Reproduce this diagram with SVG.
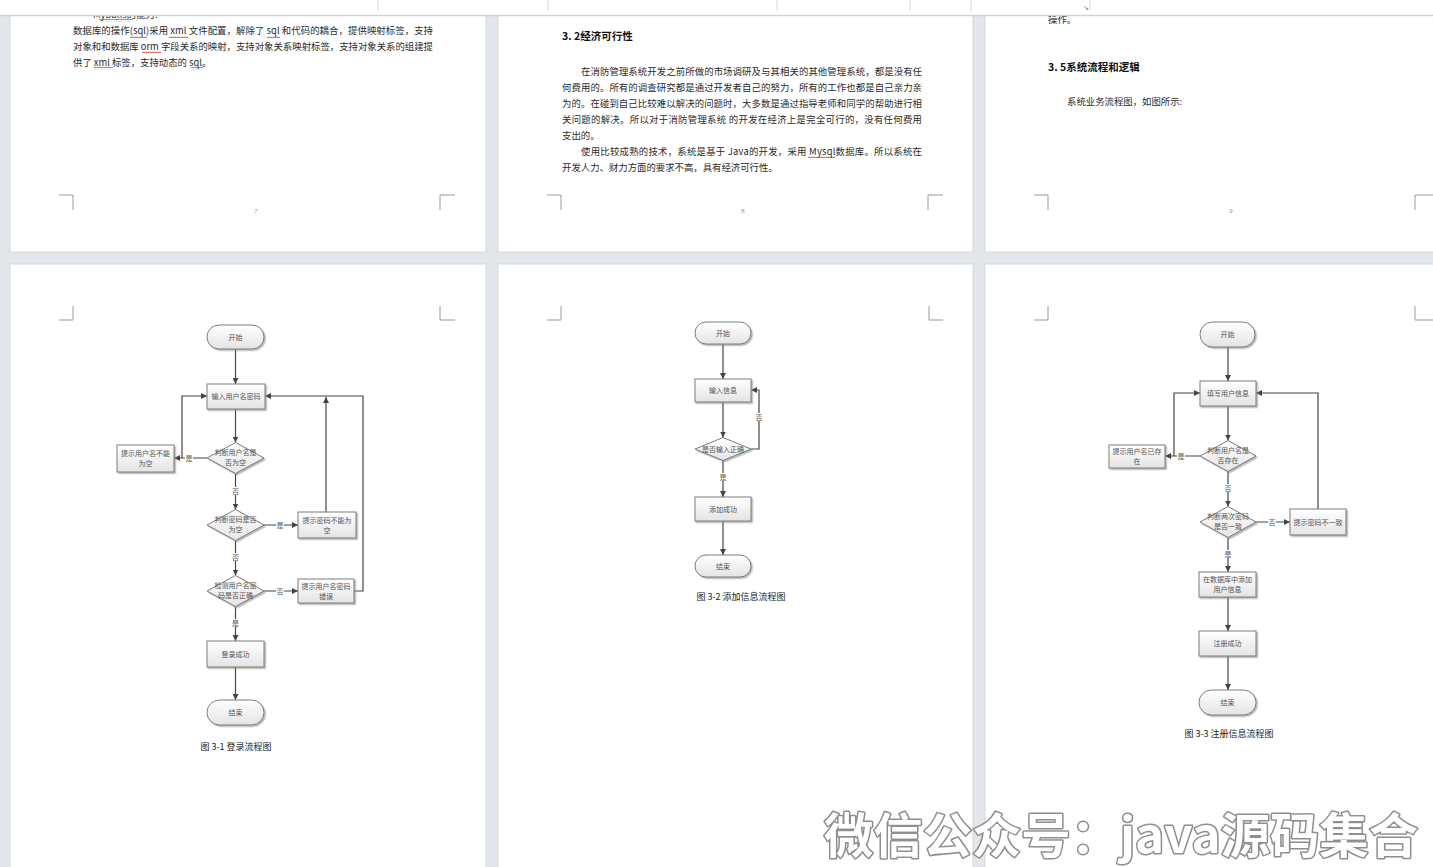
<svg xmlns="http://www.w3.org/2000/svg" width="1433" height="867" viewBox="0 0 1433 867">
<defs>
<linearGradient id="g" x1="0" y1="0" x2="0" y2="1">
<stop offset="0" stop-color="#ffffff"/>
<stop offset="1" stop-color="#e4e4e4"/>
</linearGradient>
<filter id="sh" x="-20%" y="-20%" width="150%" height="150%">
<feDropShadow dx="1.5" dy="1.5" stdDeviation="0.7" flood-color="#888" flood-opacity="0.6"/>
</filter>
<marker id="ar" viewBox="0 0 8 8" refX="8" refY="4" markerWidth="6" markerHeight="6" markerUnits="userSpaceOnUse" orient="auto">
<path d="M0,0 L8,4 L0,8 z" fill="#444"/>
</marker>
<pattern id="wave" x="0" y="0" width="4" height="3" patternUnits="userSpaceOnUse">
<path d="M0,2 L1,0.8 L2,2 L3,0.8 L4,2" fill="none" stroke="#d22" stroke-width="0.7"/>
</pattern>
<style>
.pg{fill:#ffffff;stroke:#d3d8dd;stroke-width:1}
.cm{stroke:#9a9a9a;stroke-width:1;fill:none}
.doc{font-family:"Noto Sans CJK SC","Liberation Sans",sans-serif;font-size:9.4px;fill:#2a2a2a}
.hd{font-family:"Noto Sans CJK SC","Liberation Sans",sans-serif;font-size:10.5px;font-weight:bold;fill:#111}
.pn{font-family:"Liberation Sans",sans-serif;font-size:6px;fill:#999;text-anchor:middle}
.cap{font-family:"Noto Sans CJK SC","Liberation Sans",sans-serif;font-size:9px;fill:#222;text-anchor:middle}
.nd rect,.nd polygon{fill:url(#g);stroke:#7c7c7c;stroke-width:1;filter:url(#sh)}
.nd text{font-family:"Noto Sans CJK SC","Liberation Sans",sans-serif;font-size:7px;fill:#555;text-anchor:middle}
.cn path{stroke:#454545;stroke-width:1.2;fill:none}
.lb rect{fill:#ffffff}
.lb text{font-family:"Noto Sans CJK SC","Liberation Sans",sans-serif;font-size:7px;fill:#555;text-anchor:middle}
</style>
</defs>
<rect x="0" y="0" width="1433" height="867" fill="#e3e7eb"/>

<!-- pages -->
<g id="pages">
<rect class="pg" x="10" y="10" width="476" height="242"/>
<rect class="pg" x="498" y="10" width="475" height="242"/>
<rect class="pg" x="985" y="10" width="460" height="242"/>
<rect class="pg" x="10" y="264" width="476" height="620"/>
<rect class="pg" x="498" y="264" width="475" height="620"/>
<rect class="pg" x="985" y="264" width="460" height="620"/>
</g>

<!-- corner marks -->
<g id="corners">
<path class="cm" d="M59,195 H73 V210 M440,210 V195 H455"/>
<path class="cm" d="M547,195 H561 V210 M928,210 V195 H943"/>
<path class="cm" d="M1034,195 H1048 V210 M1415,210 V195 H1433"/>
<path class="cm" d="M59,320 H73 V306 M440,306 V320 H455"/>
<path class="cm" d="M547,320 H561 V306 M929,306 V320 H943"/>
<path class="cm" d="M1034,320 H1048 V306 M1415,306 V320 H1433"/>
</g>

<!-- page 7 text -->
<g id="page7text">
<text class="doc" x="93" y="18">Mybatis的能力:</text>
<text class="doc" x="73" y="34" textLength="360" lengthAdjust="spacing">数据库的操作(sql)采用 xml 文件配置，解除了 sql 和代码的耦合，提供映射标签，支持</text>
<text class="doc" x="73" y="50" textLength="360" lengthAdjust="spacing">对象和和数据库 orm 字段关系的映射，支持对象关系映射标签，支持对象关系的组建提</text>
<text class="doc" x="73" y="66">供了 xml 标签，支持动态的 sql。</text>
<rect x="130" y="35" width="17" height="3" fill="url(#wave)"/>
<rect x="169" y="35" width="19" height="3" fill="url(#wave)"/>
<rect x="267" y="35" width="13" height="3" fill="url(#wave)"/>
<rect x="142" y="51" width="19" height="3" fill="url(#wave)"/>
<rect x="94" y="67" width="19" height="3" fill="url(#wave)"/>
<rect x="191" y="67" width="12" height="3" fill="url(#wave)"/>
<rect x="99" y="19" width="34" height="3" fill="url(#wave)"/>
<text class="pn" x="256" y="213">7</text>
</g>

<!-- page 8 text -->
<g id="page8text">
<text class="hd" x="562" y="40">3. 2经济可行性</text>
<text class="doc" x="581" y="75" textLength="341" lengthAdjust="spacing">在消防管理系统开发之前所做的市场调研及与其相关的其他管理系统，都是没有任</text>
<text class="doc" x="562" y="91" textLength="360" lengthAdjust="spacing">何费用的。所有的调查研究都是通过开发者自己的努力，所有的工作也都是自己亲力亲</text>
<text class="doc" x="562" y="107" textLength="360" lengthAdjust="spacing">为的。在碰到自己比较难以解决的问题时，大多数是通过指导老师和同学的帮助进行相</text>
<text class="doc" x="562" y="123" textLength="360" lengthAdjust="spacing">关问题的解决。所以对于消防管理系统 的开发在经济上是完全可行的，没有任何费用</text>
<text class="doc" x="562" y="139">支出的。</text>
<text class="doc" x="581" y="155" textLength="341" lengthAdjust="spacing">使用比较成熟的技术，系统是基于 Java的开发，采用 Mysql数据库。所以系统在</text>
<text class="doc" x="562" y="171">开发人力、财力方面的要求不高，具有经济可行性。</text>
<rect x="808" y="156" width="27" height="3" fill="url(#wave)"/>
<text class="pn" x="743" y="213">8</text>
</g>

<!-- page 9 text -->
<g id="page9text">
<text class="doc" x="1048" y="23">操作。</text>
<text class="hd" x="1048" y="71">3. 5系统流程和逻辑</text>
<text class="doc" x="1067" y="105">系统业务流程图，如图所示:</text>
<text class="pn" x="1231" y="213">9</text>
</g>

<!-- top toolbar strip -->
<g id="topbar">
<rect x="0" y="0" width="1433" height="15" fill="#ffffff"/>
<path d="M0,15.5 H1433" stroke="#cfd3d7" stroke-width="1.5"/>
<path d="M378,0 V11 M548,0 V11 M777,0 V11 M910,0 V11 M971,0 V11 M1090,0 V11" stroke="#d8d8d8" stroke-width="1"/>
<text x="1083" y="10" font-family="DejaVu Sans, sans-serif" font-size="7" fill="#777">↘</text>
</g>

<!-- ===== Flowchart 1 : login ===== -->
<g id="fc1-connectors" class="cn">
<path d="M235.5,349 V384" marker-end="url(#ar)"/>
<path d="M235.5,409 V442.5" marker-end="url(#ar)"/>
<path d="M207,458 H174" marker-end="url(#ar)"/>
<path d="M182,458 V396 H207" marker-end="url(#ar)"/>
<path d="M235.5,473.5 V509.5" marker-end="url(#ar)"/>
<path d="M264,525 H298" marker-end="url(#ar)"/>
<path d="M326,512 V397" marker-end="url(#ar)"/>
<path d="M235.5,540.5 V575.5" marker-end="url(#ar)"/>
<path d="M264,591 H298" marker-end="url(#ar)"/>
<path d="M354,591 H363 V396 H265" marker-end="url(#ar)"/>
<path d="M235.5,606.5 V641" marker-end="url(#ar)"/>
<path d="M235.5,667 V700" marker-end="url(#ar)"/>
</g>
<g id="fc1-labels" class="lb">
<rect x="185" y="454" width="8" height="8"/><text x="189" y="460.5">是</text>
<rect x="231.5" y="487" width="8" height="8"/><text x="235.5" y="493.5">否</text>
<rect x="276" y="521" width="8" height="8"/><text x="280" y="527.5">是</text>
<rect x="231.5" y="553" width="8" height="8"/><text x="235.5" y="559.5">否</text>
<rect x="276" y="587" width="8" height="8"/><text x="280" y="593.5">否</text>
<rect x="231.5" y="619" width="8" height="8"/><text x="235.5" y="625.5">是</text>
</g>
<g id="fc1-start" class="nd"><rect x="207" y="325" width="57" height="24" rx="12"/><text x="235.5" y="339.5">开始</text></g>
<g id="fc1-input" class="nd"><rect x="207" y="384" width="58" height="25"/><text x="236" y="398.5">输入用户名密码</text></g>
<g id="fc1-d1" class="nd"><polygon points="207,458 235.5,442.5 264,458 235.5,473.5"/><text x="235.5" y="455">判断用户名是</text><text x="235.5" y="465">否为空</text></g>
<g id="fc1-e1" class="nd"><rect x="117" y="445" width="57" height="27"/><text x="145.5" y="456">提示用户名不能</text><text x="145.5" y="466">为空</text></g>
<g id="fc1-d2" class="nd"><polygon points="207,525 235.5,509.5 264,525 235.5,540.5"/><text x="235.5" y="522">判断密码是否</text><text x="235.5" y="532">为空</text></g>
<g id="fc1-e2" class="nd"><rect x="298" y="512" width="58" height="26"/><text x="327" y="522.5">提示密码不能为</text><text x="327" y="532.5">空</text></g>
<g id="fc1-d3" class="nd"><polygon points="207,591 235.5,575.5 264,591 235.5,606.5"/><text x="235.5" y="588">检测用户名密</text><text x="235.5" y="598">码是否正确</text></g>
<g id="fc1-e3" class="nd"><rect x="298" y="579" width="56" height="24"/><text x="326" y="589">提示用户名密码</text><text x="326" y="599">错误</text></g>
<g id="fc1-ok" class="nd"><rect x="207" y="641" width="57" height="26"/><text x="235.5" y="656.5">登录成功</text></g>
<g id="fc1-end" class="nd"><rect x="207" y="700" width="57" height="25" rx="12.5"/><text x="235.5" y="715">结束</text></g>
<text class="cap" x="236" y="750">图 3-1 登录流程图</text>

<!-- ===== Flowchart 2 : add info ===== -->
<g id="fc2-connectors" class="cn">
<path d="M723,344 V379" marker-end="url(#ar)"/>
<path d="M723,402 V437.5" marker-end="url(#ar)"/>
<path d="M751,449 H759 V390 H751" marker-end="url(#ar)"/>
<path d="M723,460.5 V497" marker-end="url(#ar)"/>
<path d="M723,521 V555" marker-end="url(#ar)"/>
</g>
<g id="fc2-labels" class="lb">
<rect x="755" y="413" width="8" height="8"/><text x="759" y="419.5">否</text>
<rect x="719" y="473" width="8" height="8"/><text x="723" y="479.5">是</text>
</g>
<g id="fc2-start" class="nd"><rect x="695" y="322" width="56" height="22" rx="11"/><text x="723" y="335.5">开始</text></g>
<g id="fc2-input" class="nd"><rect x="695" y="379" width="56" height="23"/><text x="723" y="393">输入信息</text></g>
<g id="fc2-d1" class="nd"><polygon points="695,449 723,437.5 751,449 723,460.5"/><text x="723" y="451.5">是否输入正确</text></g>
<g id="fc2-ok" class="nd"><rect x="695" y="497" width="56" height="24"/><text x="723" y="511.5">添加成功</text></g>
<g id="fc2-end" class="nd"><rect x="695" y="555" width="56" height="22" rx="11"/><text x="723" y="568.5">结束</text></g>
<text class="cap" x="741" y="600">图 3-2 添加信息流程图</text>

<!-- ===== Flowchart 3 : register ===== -->
<g id="fc3-connectors" class="cn">
<path d="M1228,347 V381" marker-end="url(#ar)"/>
<path d="M1228,406 V440.5" marker-end="url(#ar)"/>
<path d="M1200,456 H1165" marker-end="url(#ar)"/>
<path d="M1174,456 V393 H1200" marker-end="url(#ar)"/>
<path d="M1228,471.5 V506.5" marker-end="url(#ar)"/>
<path d="M1256,522 H1290" marker-end="url(#ar)"/>
<path d="M1318,509 V393 H1256" marker-end="url(#ar)"/>
<path d="M1228,537.5 V572" marker-end="url(#ar)"/>
<path d="M1228,597 V631" marker-end="url(#ar)"/>
<path d="M1228,656 V690" marker-end="url(#ar)"/>
</g>
<g id="fc3-labels" class="lb">
<rect x="1177" y="452" width="8" height="8"/><text x="1181" y="458.5">是</text>
<rect x="1224" y="484" width="8" height="8"/><text x="1228" y="490.5">否</text>
<rect x="1268" y="518" width="8" height="8"/><text x="1272" y="524.5">否</text>
<rect x="1224" y="550" width="8" height="8"/><text x="1228" y="556.5">是</text>
</g>
<g id="fc3-start" class="nd"><rect x="1200" y="322" width="55" height="25" rx="12.5"/><text x="1227.5" y="337">开始</text></g>
<g id="fc3-input" class="nd"><rect x="1200" y="381" width="56" height="25"/><text x="1228" y="395.5">填写用户信息</text></g>
<g id="fc3-d1" class="nd"><polygon points="1200,456 1228,440.5 1256,456 1228,471.5"/><text x="1228" y="453">判断用户名是</text><text x="1228" y="463">否存在</text></g>
<g id="fc3-e1" class="nd"><rect x="1109" y="445" width="56" height="23"/><text x="1137" y="454">提示用户名已存</text><text x="1137" y="464">在</text></g>
<g id="fc3-d2" class="nd"><polygon points="1200,522 1228,506.5 1256,522 1228,537.5"/><text x="1228" y="519">判断两次密码</text><text x="1228" y="529">是否一致</text></g>
<g id="fc3-e2" class="nd"><rect x="1290" y="509" width="56" height="26"/><text x="1318" y="524.5">提示密码不一致</text></g>
<g id="fc3-db" class="nd"><rect x="1199" y="572" width="57" height="25"/><text x="1227.5" y="582">在数据库中添加</text><text x="1227.5" y="592">用户信息</text></g>
<g id="fc3-ok" class="nd"><rect x="1199" y="631" width="57" height="25"/><text x="1227.5" y="646">注册成功</text></g>
<g id="fc3-end" class="nd"><rect x="1199" y="690" width="57" height="25" rx="12.5"/><text x="1227.5" y="705">结束</text></g>
<text class="cap" x="1229" y="737">图 3-3 注册信息流程图</text>

<!-- watermark -->
<text x="824" y="853" textLength="594" lengthAdjust="spacingAndGlyphs" font-family="Noto Sans CJK SC, sans-serif" font-size="48" font-weight="bold" fill="#ffffff" stroke="#8f8f8f" stroke-width="3" paint-order="stroke" stroke-linejoin="round">微信公众号：java源码集合</text>
</svg>
